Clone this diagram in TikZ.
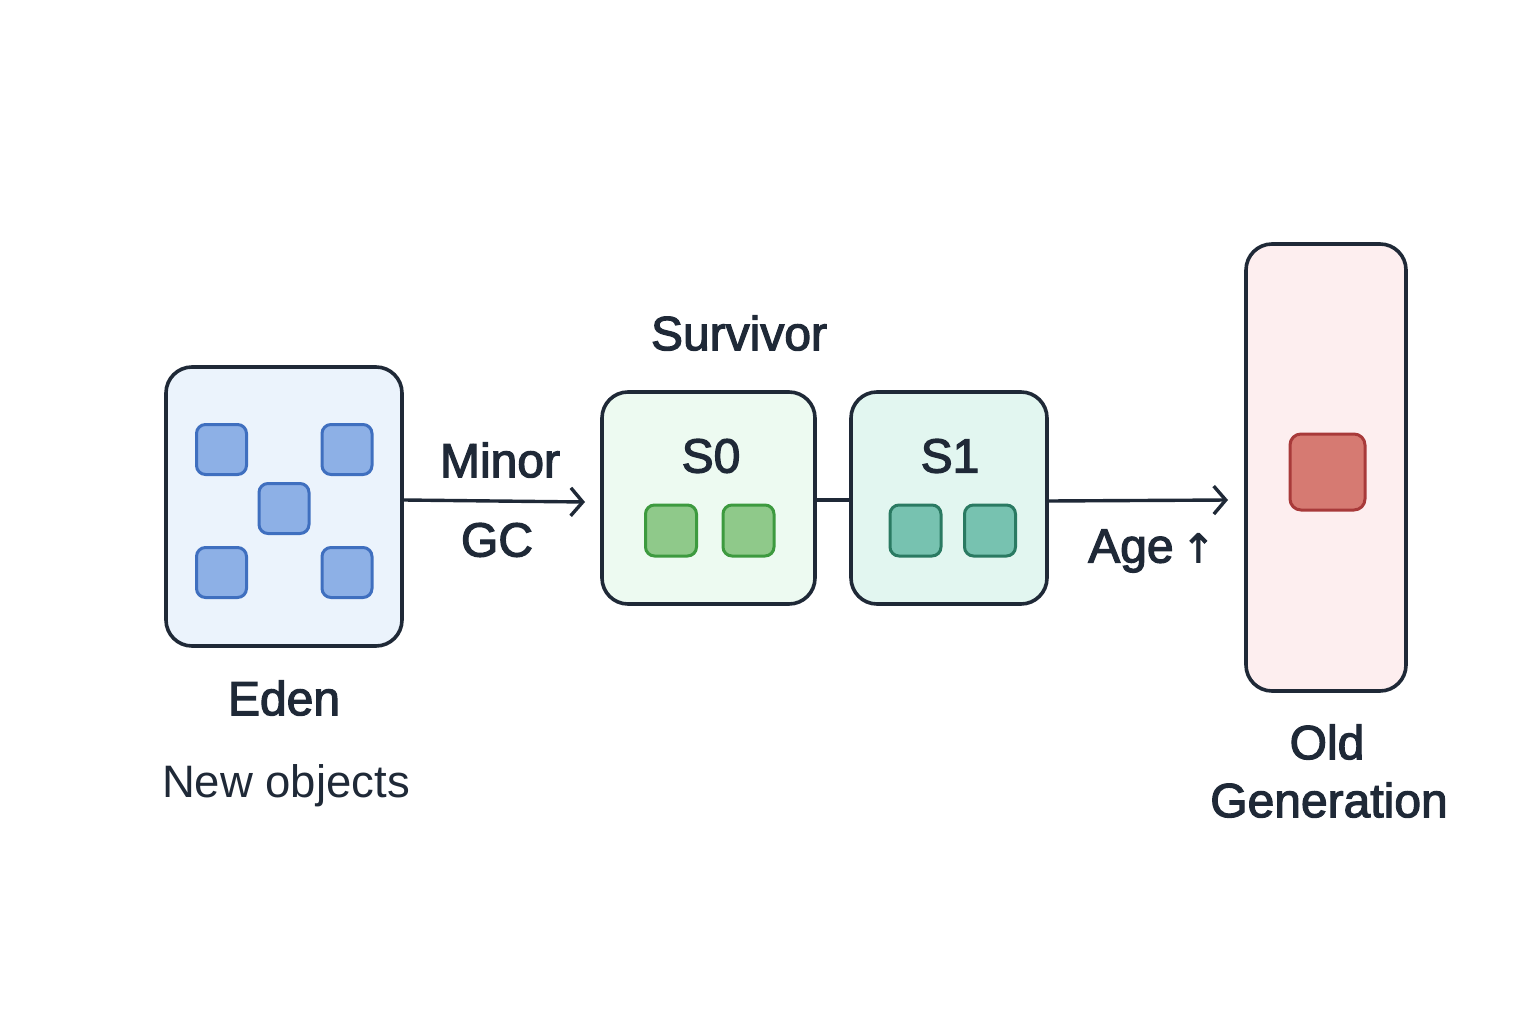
\documentclass[tikz,border=0pt]{standalone}
\usepackage{fontspec}
\setmainfont{Liberation Sans}
\newfontfamily\medfont[FakeBold=2.5]{Liberation Sans}
\newfontfamily\symfont[FakeBold=2]{DejaVu Sans}
\usetikzlibrary{arrows.meta}
\definecolor{ink}{HTML}{1F2937}
\definecolor{edenfill}{HTML}{EBF3FC}
\definecolor{sfill}{HTML}{EDFAF1}
\definecolor{sonefill}{HTML}{E2F6F0}
\definecolor{oldfill}{HTML}{FDEEEF}
\definecolor{bluefill}{HTML}{8DB0E6}
\definecolor{bluedraw}{HTML}{3F6FBF}
\definecolor{greenfill}{HTML}{8FC98A}
\definecolor{greendraw}{HTML}{3D9A3F}
\definecolor{tealfill}{HTML}{77C2B0}
\definecolor{tealdraw}{HTML}{2A7A62}
\definecolor{redfill}{HTML}{D67A72}
\definecolor{reddraw}{HTML}{A83A3A}
\tikzset{
  region/.style={draw=ink, line width=3.6pt, rounded corners=26pt, inner sep=0pt},
  obj/.style={line width=3pt, rounded corners=9pt, inner sep=0pt, minimum width=50pt, minimum height=50pt},
  conn/.style={draw=ink, line width=3.4pt},
  arr/.style={conn, -{Straight Barb[length=12pt,width=28pt,line width=3.4pt]}},
  lbl/.style={text=ink, font=\medfont\fontsize{48}{52}\selectfont, inner sep=0pt},
  plain/.style={text=ink, font=\fontsize{45.5}{50}\selectfont, inner sep=0pt}
}
\begin{document}
\begin{tikzpicture}[x=1pt,y=-1pt]
\useasboundingbox (0,0) rectangle (1536,1024);
% regions
\node[region, fill=edenfill, minimum width=236pt, minimum height=279pt] (eden) at (284,506.5) {};
\node[region, fill=sfill, minimum width=213pt, minimum height=212pt] (s0) at (708.5,498) {};
\node[region, fill=sonefill, minimum width=196pt, minimum height=212pt] (s1) at (949,498) {};
\node[region, fill=oldfill, minimum width=160pt, minimum height=447pt] (old) at (1326,467.5) {};
% eden objects
\node[obj, fill=bluefill, draw=bluedraw] (e1) at (221.5,449.5) {};
\node[obj, fill=bluefill, draw=bluedraw] (e2) at (347,449.5) {};
\node[obj, fill=bluefill, draw=bluedraw] (e3) at (284,508.5) {};
\node[obj, fill=bluefill, draw=bluedraw] (e4) at (221.5,572.5) {};
\node[obj, fill=bluefill, draw=bluedraw] (e5) at (347,572.5) {};
% survivor objects
\node[obj, fill=greenfill, draw=greendraw, minimum width=51pt, minimum height=51pt] (g1) at (671,530.5) {};
\node[obj, fill=greenfill, draw=greendraw, minimum width=51pt, minimum height=51pt] (g2) at (748.5,530.5) {};
\node[obj, fill=tealfill, draw=tealdraw, minimum width=51pt, minimum height=51pt] (t1) at (915.5,530.5) {};
\node[obj, fill=tealfill, draw=tealdraw, minimum width=51pt, minimum height=51pt] (t2) at (990,530.5) {};
% old object
\node[obj, fill=redfill, draw=reddraw, minimum width=75pt, minimum height=76pt, rounded corners=11pt] (r1) at (1327.5,472) {};
% connectors
\coordinate (a1) at (585,502);
\coordinate (a2) at (1228,500);
\draw[arr] (eden.east |- 0,500) -- (a1);
\draw[conn] (s0.east |- 0,500) -- (s1.west |- 0,500);
\draw[arr] (s1.east |- 0,501) -- (a2);
% labels
\node[lbl] (minor) at (500,460) {Minor};
\node[lbl] (gc) at (497,540) {GC};
\node[lbl] (surv) at (739,333) {Survivor};
\node[lbl] (s0l) at (711,456) {S0};
\node[lbl] (s1l) at (950,456) {S1};
\node[lbl, anchor=west] (age) at (1088,551) {Age\,{\symfont\fontsize{40}{48}\selectfont ↑}};
\node[lbl] (edenl) at (284,698) {Eden};
\node[plain] (newobj) at (286,786) {New objects};
\node[lbl] (oldl) at (1327,742) {Old};
\node[lbl] (gen) at (1329,800) {Generation};
\end{tikzpicture}
\end{document}
